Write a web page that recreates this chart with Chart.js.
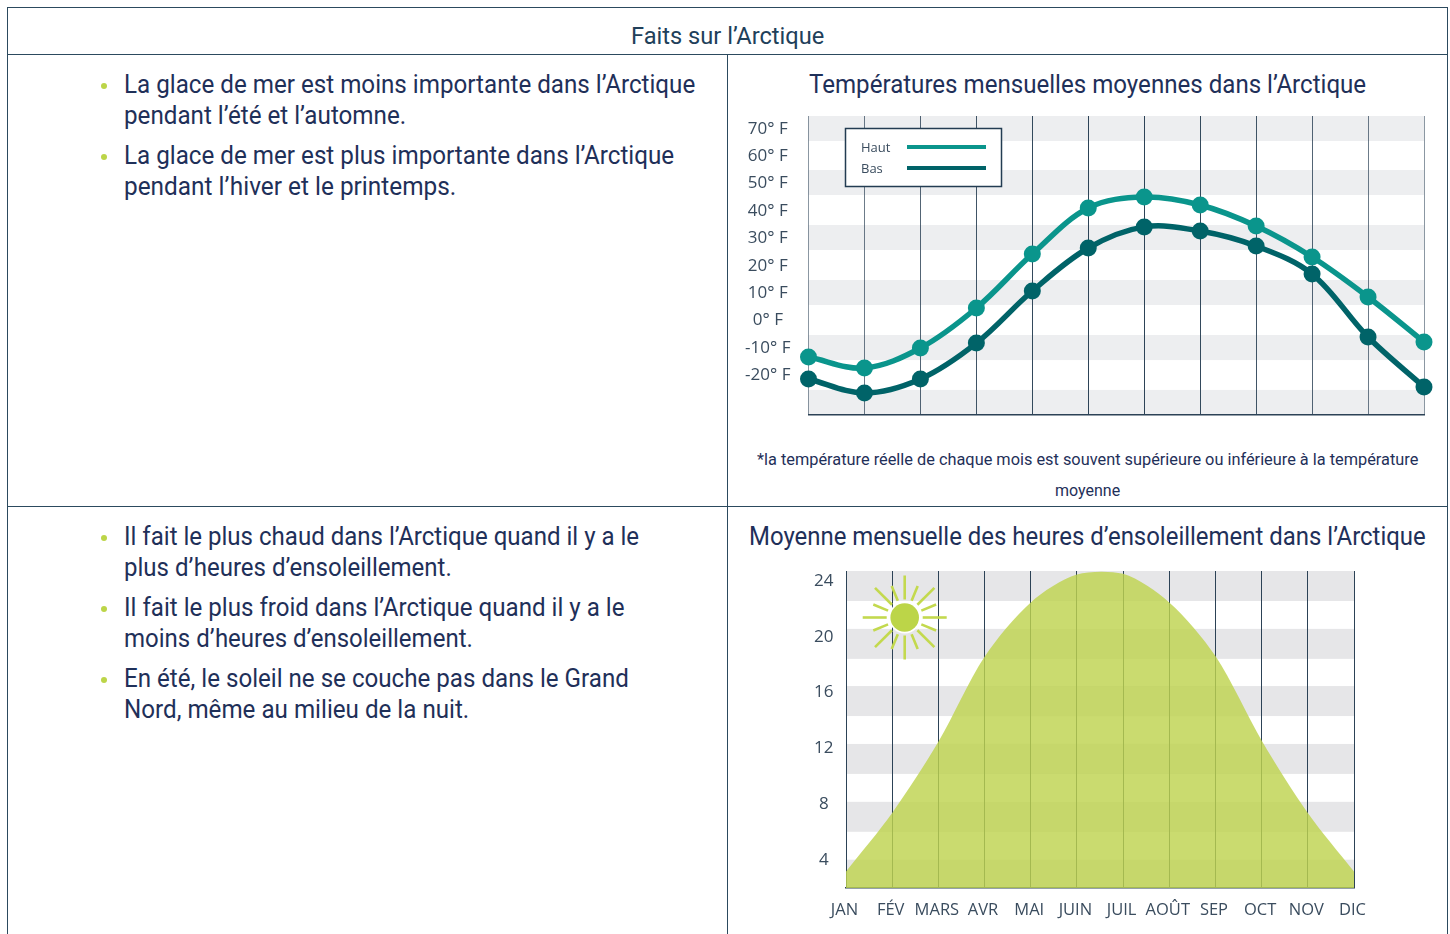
<!DOCTYPE html>
<html lang="fr">
<head>
<meta charset="utf-8">
<title>Faits sur l’Arctique</title>
<script src="https://cdn.jsdelivr.net/npm/chart.js@4"></script>
<style>
    html, body { margin: 0; padding: 0; background: #fff; }
    body { width: 1450px; height: 934px; position: relative; overflow: hidden; font-family: Roboto, sans-serif; color: #1f3059; }
    .rule { position: absolute; background: #2c4a5e; }
    .line { position: absolute; white-space: nowrap; transform-origin: 0 50%; font-size: 26px; line-height: 32px; }
    .head { font-size: 24px; color: #21405a; }
    .note { font-size: 17px; color: #1f3059; }
    .dot { position: absolute; width: 6px; height: 6px; border-radius: 50%; background: #bcd548; left: 101px; }
    canvas { position: absolute; }
</style>
</head>
<body>
<div class="rule" style="left:7px;top:7px;width:1441px;height:1px"></div>
<div class="rule" style="left:7px;top:54px;width:1441px;height:1px"></div>
<div class="rule" style="left:7px;top:506px;width:1441px;height:1px"></div>
<div class="rule" style="left:7px;top:7px;width:1px;height:927px"></div>
<div class="rule" style="left:1447px;top:7px;width:1px;height:927px"></div>
<div class="rule" style="left:727px;top:54px;width:1px;height:880px"></div>

<div class="line head" data-l="631" data-r="824" data-y="36">Faits sur l’Arctique</div>

<div class="dot" style="top:83px"></div>
<div class="line" data-l="124" data-r="695" data-y="84">La glace de mer est moins importante dans l’Arctique</div>
<div class="line" data-l="124" data-r="406" data-y="115">pendant l’été et l’automne.</div>
<div class="dot" style="top:154px"></div>
<div class="line" data-l="124" data-r="674" data-y="155">La glace de mer est plus importante dans l’Arctique</div>
<div class="line" data-l="124" data-r="456" data-y="186">pendant l’hiver et le printemps.</div>

<div class="dot" style="top:535px"></div>
<div class="line" data-l="124" data-r="639" data-y="536">Il fait le plus chaud dans l’Arctique quand il y a le</div>
<div class="line" data-l="124" data-r="452" data-y="567">plus d’heures d’ensoleillement.</div>
<div class="dot" style="top:606px"></div>
<div class="line" data-l="124" data-r="624" data-y="607">Il fait le plus froid dans l’Arctique quand il y a le</div>
<div class="line" data-l="124" data-r="473" data-y="638">moins d’heures d’ensoleillement.</div>
<div class="dot" style="top:677px"></div>
<div class="line" data-l="124" data-r="629" data-y="678">En été, le soleil ne se couche pas dans le Grand</div>
<div class="line" data-l="124" data-r="469" data-y="709">Nord, même au milieu de la nuit.</div>

<div class="line" data-l="809" data-r="1366" data-y="84">Températures mensuelles moyennes dans l’Arctique</div>
<div class="line" data-l="749" data-r="1426" data-y="536">Moyenne mensuelle des heures d’ensoleillement dans l’Arctique</div>
<div class="line note" data-l="757" data-r="1418" data-y="459">*la température réelle de chaque mois est souvent supérieure ou inférieure à la température</div>
<div class="line note" data-l="1055" data-r="1120" data-y="490">moyenne</div>

<canvas id="tempChart" width="715" height="340" style="left:729px;top:100px"></canvas>
<canvas id="sunChart" width="715" height="374" style="left:729px;top:560px"></canvas>

<script>
// monthly temperatures, degrees F
const tempMonths = ["JAN", "FÉV", "MARS", "AVR", "MAI", "JUIN", "JUIL", "AOÛT", "SEP", "OCT", "NOV", "DIC"];
const tempHigh = [-13.7, -17.7, -10.4, 4.2, 23.9, 40.7, 44.7, 41.8, 34.1, 22.8, 8.2, -8.2];
const tempLow = [-21.7, -26.8, -21.7, -8.6, 10.4, 26.1, 33.8, 32.3, 26.8, 16.6, -6.4, -24.6];
const tempTicks = [70, 60, 50, 40, 30, 20, 10, 0, -10, -20];
const tempBands = [[74.27, 65.15], [54.56, 45.44], [34.5, 25.36], [14.4, 5.3], [-5.66, -14.8], [-25.7, -34.85]];

// daylight hours per month
const sunMonths = ["JAN", "FÉV", "MARS", "AVR", "MAI", "JUIN", "JUIL", "AOÛT", "SEP", "OCT", "NOV", "DIC"];
const sunHours = [3.1, 7.3, 12.4, 18.5, 22.4, 24.4, 24.45, 22.4, 18.55, 12.5, 7.3, 3.1];
const sunTicks = [24, 20, 16, 12, 8, 4];
const sunBands = [[24.65, 22.5], [20.5, 18.35], [16.4, 14.25], [12.25, 10.1], [8.1, 5.95], [3.95, 1.92]];

const LABEL_COLOR = '#3a4c5e';
const GRID_COLOR = '#2c4256';

// stretch each text line so it spans its left/right edges
document.querySelectorAll('.line').forEach(function(el) {
    var l = +el.dataset.l, r = +el.dataset.r, y = +el.dataset.y;
    el.style.left = l + 'px';
    el.style.top = (y - el.offsetHeight / 2) + 'px';
    el.style.transform = 'scaleX(' + ((r - l) / el.offsetWidth) + ')';
});

// grey stripes behind the grid
const bandPlugin = {
    id: 'bands',
    beforeDraw(chart, args, opts) {
        var a = chart.chartArea, y = chart.scales.y, ctx = chart.ctx;
        ctx.save();
        ctx.fillStyle = opts.color;
        opts.ranges.forEach(function(b) {
            var top = y.getPixelForValue(b[0]);
            ctx.fillRect(a.left, top, a.right - a.left, y.getPixelForValue(b[1]) - top);
        });
        ctx.restore();
    }
};

// boxed legend over the top left of the temperature plot
const boxLegend = {
    id: 'boxLegend',
    afterDraw(chart) {
        var ctx = chart.ctx, x = 116.5, y = 28.5;
        ctx.save();
        ctx.fillStyle = '#fff';
        ctx.strokeStyle = '#233c52';
        ctx.lineWidth = 1.5;
        ctx.fillRect(x, y, 156, 58);
        ctx.strokeRect(x, y, 156, 58);
        ctx.font = '13px "Open Sans"';
        ctx.textBaseline = 'middle';
        chart.data.datasets.forEach(function(ds, i) {
            var rowY = y + 18.5 + i * 21;
            ctx.fillStyle = LABEL_COLOR;
            ctx.fillText(ds.label, x + 15.5, rowY + 0.8);
            ctx.strokeStyle = ds.borderColor;
            ctx.lineWidth = 4;
            ctx.beginPath();
            ctx.moveTo(x + 61.5, rowY);
            ctx.lineTo(x + 140.5, rowY);
            ctx.stroke();
        });
        ctx.restore();
    }
};

// sun icon in the corner of the daylight plot
const sunIcon = {
    id: 'sunIcon',
    afterDraw(chart) {
        var ctx = chart.ctx, cx = 175.7, cy = 57.5;
        ctx.save();
        ctx.strokeStyle = '#c3d94e';
        ctx.lineWidth = 2.6;
        for (var i = 0; i < 16; i++) {
            var ang = i * Math.PI / 8, outer = i % 2 ? 34 : 42;
            ctx.beginPath();
            ctx.moveTo(cx + Math.cos(ang) * 18, cy + Math.sin(ang) * 18);
            ctx.lineTo(cx + Math.cos(ang) * outer, cy + Math.sin(ang) * outer);
            ctx.stroke();
        }
        ctx.fillStyle = '#fff';
        ctx.beginPath();
        ctx.arc(cx, cy, 16, 0, Math.PI * 2);
        ctx.fill();
        ctx.fillStyle = '#bcd548';
        ctx.beginPath();
        ctx.arc(cx, cy, 14.3, 0, Math.PI * 2);
        ctx.fill();
        ctx.restore();
    }
};

function yTicks(list) {
    return function(scale) { scale.ticks = list.map(function(v) { return { value: v }; }); };
}

// fixed gutter for the value axis, no extra room around its labels
function yGutter(w) {
    return function(s) {
        s.width = w;
        s.paddingTop = 0;
        s.paddingBottom = 0;
    };
}

// month lines get paler towards both ends of the temperature plot
function fadedGrid(ctx) {
    var d = Math.abs(ctx.index - 5.5) / 5.5;
    return 'rgba(44, 66, 86, ' + (1 - 0.45 * d * d) + ')';
}

new Chart(document.getElementById('tempChart'), {
    type: 'line',
    plugins: [bandPlugin, boxLegend],
    data: {
        labels: tempMonths,
        datasets: [{
            label: 'Haut',
            data: tempHigh,
            borderColor: '#0a958c',
            backgroundColor: '#0a958c'
        }, {
            label: 'Bas',
            data: tempLow,
            borderColor: '#006368',
            backgroundColor: '#006368'
        }]
    },
    options: {
        responsive: false,
        animation: false,
        layout: { autoPadding: false, padding: { top: 16, right: 20 } },
        elements: {
            line: { borderWidth: 5.5, tension: 0.35, fill: false },
            point: { radius: 8.5, hoverRadius: 8.5, borderWidth: 0 }
        },
        datasets: { line: { clip: false } },
        plugins: {
            legend: { display: false },
            tooltip: { enabled: false },
            bands: { color: '#edeef0', ranges: tempBands }
        },
        scales: {
            x: {
                afterFit: function(s) { s.height = 25; },
                ticks: { display: false },
                grid: { color: fadedGrid, lineWidth: 1, drawTicks: false },
                border: { color: GRID_COLOR, width: 1.5 }
            },
            y: {
                min: -34.85,
                max: 74.27,
                afterBuildTicks: yTicks(tempTicks),
                afterFit: yGutter(79.5),
                grid: { display: false, drawTicks: false },
                border: { display: false },
                ticks: {
                    padding: 18,
                    labelOffset: 1,
                    crossAlign: 'center',
                    color: LABEL_COLOR,
                    font: { family: '"Open Sans"', size: 17 },
                    callback: function(v) { return v + '° F'; }
                }
            }
        }
    }
});

new Chart(document.getElementById('sunChart'), {
    type: 'line',
    plugins: [bandPlugin, sunIcon],
    data: {
        labels: sunMonths,
        datasets: [{
            label: 'Heures',
            data: sunHours,
            fill: 'start',
            borderWidth: 0,
            pointRadius: 0,
            tension: 0.3,
            backgroundColor: 'rgba(190, 211, 79, 0.82)'
        }]
    },
    options: {
        responsive: false,
        animation: false,
        layout: { autoPadding: false, padding: { top: 11, right: 90 } },
        plugins: {
            legend: { display: false },
            tooltip: { enabled: false },
            bands: { color: '#e6e6e8', ranges: sunBands }
        },
        scales: {
            x: {
                afterFit: function(s) { s.height = 46; },
                grid: { color: GRID_COLOR, lineWidth: 1, drawTicks: false },
                border: { color: GRID_COLOR, width: 1.5 },
                ticks: {
                    padding: 12,
                    labelOffset: -1.5,
                    maxRotation: 0,
                    autoSkip: false,
                    color: LABEL_COLOR,
                    font: { family: '"Open Sans"', size: 16.5 }
                }
            },
            y: {
                min: 1.92,
                max: 24.65,
                afterBuildTicks: yTicks(sunTicks),
                afterFit: yGutter(117),
                grid: { display: false, drawTicks: false },
                border: { display: false },
                ticks: {
                    padding: 12.5,
                    labelOffset: 1,
                    crossAlign: 'center',
                    color: LABEL_COLOR,
                    font: { family: '"Open Sans"', size: 17 }
                }
            }
        }
    }
});
</script>
</body>
</html>
